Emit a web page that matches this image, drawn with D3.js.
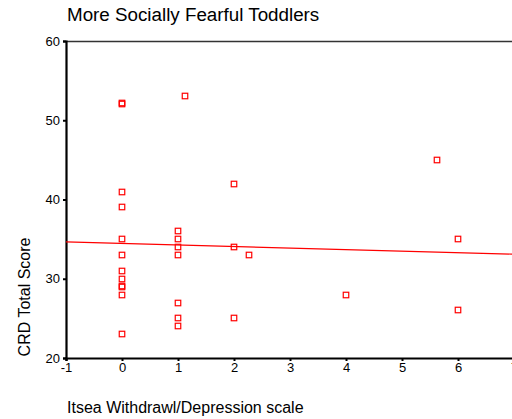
<!DOCTYPE html>
<html>
<head>
<meta charset="utf-8">
<script src="https://d3js.org/d3.v7.min.js"></script>
<style>
    body { margin: 0; background: #fff; overflow: hidden; }
    text { font-family: Arial, "Liberation Sans", sans-serif; fill: #000; }
</style>
</head>
<body>
<script>

// Data

var withdrawal = [0, 0, 0, 0, 0, 0, 0, 0, 0, 0, 0, 0,
    1, 1, 1, 1, 1, 1, 1, 1.13,
    2, 2, 2, 2.27, 4, 5.63, 6, 6];
var crdScore = [52, 52.15, 41, 39, 35, 33, 31, 30, 29, 29.12, 28, 23,
    36, 35, 34, 33, 27, 25, 24, 53,
    42, 34, 25, 33, 28, 45, 35, 26];

var xTicks = [-1, 0, 1, 2, 3, 4, 5, 6, 7];
var yTicks = [20, 30, 40, 50, 60];

var title = 'More Socially Fearful Toddlers';
var xLabel = 'Itsea Withdrawl/Depression scale';
var yLabel = 'CRD Total Score';


// Least squares fit line
function linearFit(xs, ys) {
    var n = xs.length;
    var mx = d3.mean(xs), my = d3.mean(ys);
    var sxy = 0, sxx = 0;
    for (var i = 0; i < n; i++) {
        sxy += (xs[i] - mx) * (ys[i] - my);
        sxx += (xs[i] - mx) * (xs[i] - mx);
    }
    var b = sxy / sxx;
    return { slope: b, intercept: my - b * mx };
}


// ===========================================================================
// The chart

var width = 512;
var height = 419;

var svg = d3.select('body').append('svg')
    .attr('width', width)
    .attr('height', height);

var x = d3.scaleLinear().domain([-1, 7]).range([66, 514]);
var y = d3.scaleLinear().domain([20, 60]).range([358, 41]);

// Top frame line
svg.append('line')
    .attr('x1', x(-1)).attr('x2', x(7))
    .attr('y1', y(60) + 0.5).attr('y2', y(60) + 0.5)
    .attr('stroke', '#333')
    .attr('stroke-width', 1.3);

// Axes (plain hyphen for negatives, like the original)
var fmt = function (d) { return String(d); };

var xAxis = svg.append('g')
    .attr('transform', 'translate(0,' + y(20) + ')')
    .call(d3.axisBottom(x).tickValues(xTicks).tickSize(3).tickPadding(2)
        .tickFormat(fmt));

var yAxis = svg.append('g')
    .attr('transform', 'translate(' + x(-1) + ',0)')
    .call(d3.axisLeft(y).tickValues(yTicks).tickSize(3).tickPadding(3)
        .tickFormat(fmt));

[xAxis, yAxis].forEach(function (g) {
    g.select('.domain').attr('stroke', '#000').attr('stroke-width', 2.2);
    g.selectAll('.tick line').attr('stroke', '#000').attr('stroke-width', 2);
    g.selectAll('.tick text')
        .style('font-size', '13px')
        .style('font-family', 'Arial, "Liberation Sans", sans-serif')
        .attr('fill', '#000');
});

// Regression line
var fit = linearFit(withdrawal, crdScore);
svg.append('line')
    .attr('x1', x(-1)).attr('y1', y(fit.intercept + fit.slope * -1))
    .attr('x2', x(7)).attr('y2', y(fit.intercept + fit.slope * 7))
    .attr('stroke', '#ff0000')
    .attr('stroke-width', 1.2);

// Points
var s = 5.5;
svg.append('g').selectAll('rect')
    .data(d3.zip(withdrawal, crdScore))
    .enter()
    .append('rect')
    .attr('x', function (d) { return Math.round(x(d[0])) - s / 2; })
    .attr('y', function (d) { return Math.round(y(d[1])) - s / 2; })
    .attr('width', s)
    .attr('height', s)
    .attr('fill', 'none')
    .attr('stroke', '#ff0000')
    .attr('stroke-width', 1.2);

// Texts
svg.append('text')
    .attr('x', 67)
    .attr('y', 21)
    .style('font-size', '18.8px')
    .text(title);

svg.append('text')
    .attr('x', 67)
    .attr('y', 413)
    .style('font-size', '16px')
    .text(xLabel);

svg.append('text')
    .attr('transform', 'translate(30,' + 297 + ') rotate(-90)')
    .attr('text-anchor', 'middle')
    .style('font-size', '16px')
    .text(yLabel);

</script>
</body>
</html>
